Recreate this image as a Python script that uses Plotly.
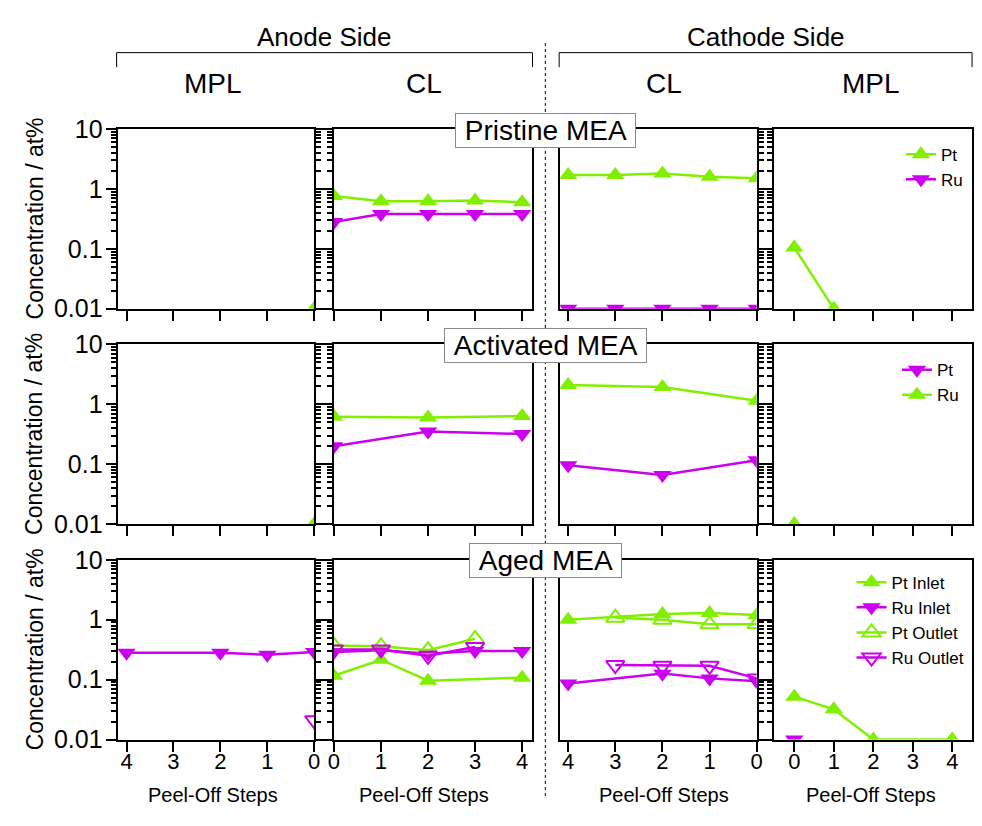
import plotly.graph_objects as go

# ---------------- data ----------------
step_ticks = [0, 1, 2, 3, 4]
step_labels = ['0', '1', '2', '3', '4']
conc_ticks = [0.01, 0.1, 1, 10]
conc_labels = ['0.01', '0.1', '1', '10']
conc_minor = [0.02, 0.03, 0.04, 0.05, 0.06, 0.07, 0.08, 0.09,
              0.2, 0.3, 0.4, 0.5, 0.6, 0.7, 0.8, 0.9,
              2, 3, 4, 5, 6, 7, 8, 9]

side_titles = ['Anode Side', 'Cathode Side']
column_titles = ['MPL', 'CL', 'CL', 'MPL']
row_titles = ['Pristine MEA', 'Activated MEA', 'Aged MEA']
x_title = 'Peel-Off Steps'
y_title = 'Concentration / at%'

# Pristine MEA
pri_a_mpl_x = [0]
pri_a_mpl_pt = [0.01]
pri_a_cl_x = [0, 1, 2, 3, 4]
pri_a_cl_pt = [0.76, 0.62, 0.62, 0.64, 0.60]
pri_a_cl_ru = [0.28, 0.38, 0.38, 0.38, 0.38]
pri_c_cl_x = [4, 3, 2, 1, 0]
pri_c_cl_pt = [1.7, 1.7, 1.8, 1.6, 1.5]
pri_c_cl_ru = [0.01, 0.01, 0.01, 0.01, 0.01]
pri_c_mpl_x = [0, 1]
pri_c_mpl_pt = [0.105, 0.01]

# Activated MEA (legend of this row: Pt = magenta, Ru = green)
act_a_mpl_x = [0]
act_a_mpl_ru = [0.01]
act_a_cl_x = [0, 2, 4]
act_a_cl_ru = [0.62, 0.60, 0.64]
act_a_cl_pt = [0.20, 0.35, 0.32]
act_c_cl_x = [4, 2, 0]
act_c_cl_ru = [2.1, 1.95, 1.15]
act_c_cl_pt = [0.096, 0.066, 0.116]
act_c_mpl_x = [0]
act_c_mpl_ru = [0.01]

# Aged MEA
aged_a_mpl_x = [4, 2, 1, 0]
aged_a_mpl_ru_in = [0.28, 0.28, 0.26, 0.29]
aged_a_mpl_out_x = [0]
aged_a_mpl_ru_out = [0.021]
aged_a_cl_pt_in_x = [0, 1, 2, 4]
aged_a_cl_pt_in = [0.116, 0.215, 0.096, 0.108]
aged_a_cl_ru_in_x = [0, 1, 2, 3, 4]
aged_a_cl_ru_in = [0.29, 0.31, 0.27, 0.30, 0.30]
aged_a_cl_out_x = [0, 1, 2, 3]
aged_a_cl_pt_out = [0.37, 0.36, 0.31, 0.48]
aged_a_cl_ru_out = [0.32, 0.32, 0.25, 0.35]
aged_c_cl_in_x = [4, 2, 1, 0]
aged_c_cl_pt_in = [1.0, 1.25, 1.3, 1.2]
aged_c_cl_ru_in = [0.086, 0.126, 0.105, 0.094]
aged_c_cl_out_x = [3, 2, 1, 0]
aged_c_cl_pt_out = [1.08, 1.0, 0.84, 0.84]
aged_c_cl_ru_out = [0.175, 0.17, 0.17, 0.105]
aged_c_mpl_pt_in_x = [0, 1, 2, 4]
aged_c_mpl_pt_in = [0.052, 0.032, 0.01, 0.01]
aged_c_mpl_ru_in_x = [0]
aged_c_mpl_ru_in = [0.01]

# ---------------- styling / layout ----------------
W, H = 982, 826
GREEN = '#80F000'
MAG = '#CC00EE'
REG = 'Liberation Sans, Arial, sans-serif'

COL_PX = [(113, 312), (332, 533), (561, 760), (778, 978)]
ROW_PX = [(119, 305), (342, 528), (565, 751)]
X_RANGES = [[4.19, 0], [0, 4.22], [4.17, 0], [-0.5, 4.5]]


def fx(p):
    return p / W


def fy(p):
    return 1 - p / H


MS = 16
STYLES = {
    'pt_fill': dict(symbol='triangle-up', color=GREEN, size=MS, line=dict(width=0)),
    'ru_fill': dict(symbol='triangle-down', color=MAG, size=MS, line=dict(width=0)),
    'pt_open': dict(symbol='triangle-up-open', color=GREEN, size=MS, line=dict(width=2, color=GREEN)),
    'ru_open': dict(symbol='triangle-down-open', color=MAG, size=MS, line=dict(width=2, color=MAG)),
}
LINE_COL = {'pt_fill': GREEN, 'pt_open': GREEN, 'ru_fill': MAG, 'ru_open': MAG}

fig = go.Figure()
legend_seen = set()


def add(row, col, x, y, style, name, legend, rank):
    i = row * 4 + col + 1
    key = (legend, name)
    show = key not in legend_seen
    legend_seen.add(key)
    fig.add_trace(go.Scatter(
        x=x, y=y, mode='lines+markers', name=name,
        xaxis='x' if i == 1 else 'x%d' % i,
        yaxis='y' if i == 1 else 'y%d' % i,
        marker=STYLES[style], line=dict(color=LINE_COL[style], width=2.5),
        legend=legend, legendgroup=legend + name, showlegend=show,
        legendrank=rank, cliponaxis=True,
    ))


# row 0: Pristine
add(0, 2, pri_c_cl_x, pri_c_cl_pt, 'pt_fill', 'Pt', 'legend', 1)
add(0, 2, pri_c_cl_x, pri_c_cl_ru, 'ru_fill', 'Ru', 'legend', 2)
add(0, 0, pri_a_mpl_x, pri_a_mpl_pt, 'pt_fill', 'Pt', 'legend', 1)
add(0, 1, pri_a_cl_x, pri_a_cl_pt, 'pt_fill', 'Pt', 'legend', 1)
add(0, 1, pri_a_cl_x, pri_a_cl_ru, 'ru_fill', 'Ru', 'legend', 2)
add(0, 3, pri_c_mpl_x, pri_c_mpl_pt, 'pt_fill', 'Pt', 'legend', 1)

# row 1: Activated
add(1, 1, act_a_cl_x, act_a_cl_pt, 'ru_fill', 'Pt', 'legend2', 1)
add(1, 1, act_a_cl_x, act_a_cl_ru, 'pt_fill', 'Ru', 'legend2', 2)
add(1, 0, act_a_mpl_x, act_a_mpl_ru, 'pt_fill', 'Ru', 'legend2', 2)
add(1, 2, act_c_cl_x, act_c_cl_ru, 'pt_fill', 'Ru', 'legend2', 2)
add(1, 2, act_c_cl_x, act_c_cl_pt, 'ru_fill', 'Pt', 'legend2', 1)
add(1, 3, act_c_mpl_x, act_c_mpl_ru, 'pt_fill', 'Ru', 'legend2', 2)

# row 2: Aged
add(2, 1, aged_a_cl_pt_in_x, aged_a_cl_pt_in, 'pt_fill', 'Pt Inlet', 'legend3', 1)
add(2, 1, aged_a_cl_ru_in_x, aged_a_cl_ru_in, 'ru_fill', 'Ru Inlet', 'legend3', 2)
add(2, 1, aged_a_cl_out_x, aged_a_cl_pt_out, 'pt_open', 'Pt Outlet', 'legend3', 3)
add(2, 1, aged_a_cl_out_x, aged_a_cl_ru_out, 'ru_open', 'Ru Outlet', 'legend3', 4)
add(2, 0, aged_a_mpl_x, aged_a_mpl_ru_in, 'ru_fill', 'Ru Inlet', 'legend3', 2)
add(2, 0, aged_a_mpl_out_x, aged_a_mpl_ru_out, 'ru_open', 'Ru Outlet', 'legend3', 4)
add(2, 2, aged_c_cl_in_x, aged_c_cl_pt_in, 'pt_fill', 'Pt Inlet', 'legend3', 1)
add(2, 2, aged_c_cl_in_x, aged_c_cl_ru_in, 'ru_fill', 'Ru Inlet', 'legend3', 2)
add(2, 2, aged_c_cl_out_x, aged_c_cl_pt_out, 'pt_open', 'Pt Outlet', 'legend3', 3)
add(2, 2, aged_c_cl_out_x, aged_c_cl_ru_out, 'ru_open', 'Ru Outlet', 'legend3', 4)
add(2, 3, aged_c_mpl_pt_in_x, aged_c_mpl_pt_in, 'pt_fill', 'Pt Inlet', 'legend3', 1)
add(2, 3, aged_c_mpl_ru_in_x, aged_c_mpl_ru_in, 'ru_fill', 'Ru Inlet', 'legend3', 2)

layout = dict(
    width=W, height=H, autosize=False,
    margin=dict(l=0, r=0, t=0, b=0, pad=0),
    paper_bgcolor='white', plot_bgcolor='white',
    font=dict(family=REG, size=15, color='black'),
)

for r in range(3):
    for c in range(4):
        i = r * 4 + c + 1
        xs = '' if i == 1 else str(i)
        x0, x1 = COL_PX[c]
        y0, y1 = ROW_PX[r]
        layout['xaxis' + xs] = dict(
            domain=[fx(x0), fx(x1)], anchor='y' + xs, range=X_RANGES[c],
            tickmode='array', tickvals=step_ticks, ticktext=step_labels,
            ticks='outside', ticklen=10, tickwidth=2, tickcolor='black',
            showline=True, linewidth=2, linecolor='black', mirror=True,
            showgrid=False, zeroline=False,
            showticklabels=(r == 2), ticklabelstandoff=-9,
            tickfont=dict(family=REG, size=22),
        )
        layout['xaxis%d' % (12 + i)] = dict(
            overlaying='x' + xs, anchor='y' + xs, side='top', range=X_RANGES[c],
            tickmode='array', tickvals=step_ticks,
            ticks='inside', ticklen=9, tickwidth=2, tickcolor='black',
            showline=False, showgrid=False, zeroline=False, showticklabels=False,
        )
        yax = dict(
            domain=[fy(y1), fy(y0)], anchor='x' + xs, type='log', range=[-2, 1],
            tickmode='array', tickvals=conc_ticks, ticktext=conc_labels,
            ticks='outside', ticklen=10, tickwidth=2, tickcolor='black',
            minor=dict(tickmode='array', tickvals=conc_minor, ticks='outside',
                       ticklen=5, tickwidth=1.5, tickcolor='black', showgrid=False),
            showline=True, linewidth=2, linecolor='black',
            showgrid=False, zeroline=False,
            showticklabels=(c == 0),
            tickfont=dict(family=REG, size=25),
        )
        if c == 0:
            yax.update(side='left', mirror='ticks', ticklabelstandoff=-2)
        elif c == 2:
            yax.update(side='right', mirror=True)
        else:
            yax.update(side='left', mirror=True)
        layout['yaxis' + xs] = yax

legend_common = dict(xanchor='left', yanchor='top', bgcolor='rgba(0,0,0,0)',
                     font=dict(family=REG, size=17), tracegroupgap=0,
                     itemwidth=30, traceorder='normal')
layout['legend'] = dict(x=fx(906), y=fy(127), **legend_common)
layout['legend2'] = dict(x=fx(902), y=fy(350), **legend_common)
layout['legend3'] = dict(x=fx(856), y=fy(570), **legend_common)


def text(xp, yp, s, size, angle=0, **kw):
    d = dict(x=fx(xp), y=fy(yp), xref='paper', yref='paper', text=s,
             xanchor='center', yanchor='middle', showarrow=False,
             textangle=angle, font=dict(family=REG, size=size))
    d.update(kw)
    return d


ann = []
for k, cx in enumerate([322, 769]):
    ann.append(text(cx, 24, side_titles[k], 26))
for k, cx in enumerate([210, 423, 666, 876]):
    ann.append(text(cx, 72, column_titles[k], 28))
    ann.append(text(cx, 808, x_title, 20))
for r in range(3):
    y0, y1 = ROW_PX[r]
    ann.append(text(29, (y0 + y1) / 2, y_title, 23, angle=-90))
for r, cy in enumerate([121, 343, 566]):
    ann.append(text(546, cy, '&nbsp;' + row_titles[r] + '&nbsp;', 28, bgcolor='white',
                    bordercolor='#8a8a8a', borderwidth=1, borderpad=1))
layout['annotations'] = ann

shapes = [
    dict(type='line', xref='paper', yref='paper', x0=fx(546), x1=fx(546), y0=fy(30), y1=fy(812),
         line=dict(color='black', width=1, dash='dot')),
]
for a, b in [(112, 533), (560, 978)]:
    shapes.append(dict(type='path', xref='paper', yref='paper',
                       path='M %f %f L %f %f L %f %f L %f %f' % (fx(a), fy(55), fx(a), fy(40),
                                                                  fx(b), fy(40), fx(b), fy(55)),
                       line=dict(color='black', width=1)))
layout['shapes'] = shapes

fig.update_layout(**layout)
fig.write_html('out.html', config={'displayModeBar': False},
               post_script="document.body.style.margin='0';document.body.style.overflow='hidden';")
